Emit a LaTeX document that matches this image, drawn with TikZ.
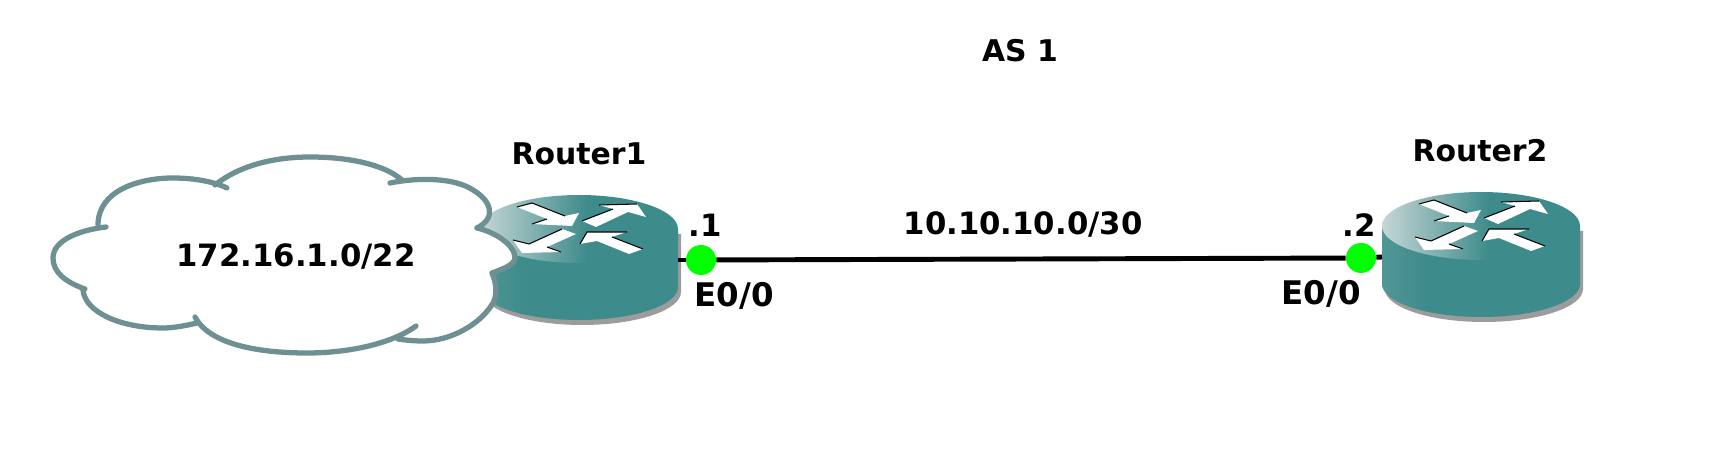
\documentclass[tikz,border=0pt]{standalone}
\usepackage{fontspec}
\setmainfont{DejaVu Sans}
\usetikzlibrary{positioning}
\definecolor{routerteal}{HTML}{3E8B8B}
\definecolor{routerlight}{HTML}{C6D6D6}
\definecolor{routershadow}{HTML}{9C9C9C}
\definecolor{cloudgrey}{HTML}{6E9092}
\definecolor{portgreen}{HTML}{00FF00}
\colorlet{routerpale}{routerteal!90!white}
\pgfdeclarehorizontalshading{routertop}{100bp}{color(0bp)=(routerlight); color(25bp)=(routerlight); color(52bp)=(routerteal); color(100bp)=(routerteal)}
\pgfdeclarehorizontalshading{routerside}{100bp}{color(0bp)=(routerpale); color(25bp)=(routerpale); color(36bp)=(routerteal); color(100bp)=(routerteal)}
\tikzset{
netlabel/.style={font=\fontsize{17}{20}\selectfont\bfseries, inner sep=0pt},
addrlabel/.style={font=\fontsize{17.5}{20}\selectfont\bfseries, inner sep=0pt},
portlabel/.style={font=\fontsize{18.5}{20}\selectfont\bfseries, inner sep=0pt},
portdot/.style={circle, fill=portgreen, minimum size=0.6cm, inner sep=0pt},
netlink/.style={draw, black, line width=2.8pt},
cloudline/.style={draw=cloudgrey, line width=3pt, line cap=round, line join=round},
arrowedge/.style={draw, black, line width=0.6pt},
routericon/.pic={
  % shadow, body, then the top face
  \fill[routershadow] (-96,5) -- (-96,63) arc[start angle=180, end angle=0, x radius=99, y radius=33] -- (102,5) -- cycle;
  \shade[shading=routerside] (-99,0) -- (-99,58) arc[start angle=180, end angle=0, x radius=99, y radius=33] -- (99,0) -- cycle;
  \shade[shading=routertop] (0,0) ellipse[x radius=99, y radius=34];
  % the four arrows
  \fill[white] (-62,-22) -- (-47,-26) -- (-14,-13) -- (0,-16) -- (-7,-3) -- (-47,-5) -- (-32,-10) -- cycle;
  \fill[white] (3,-8) -- (34,-20) -- (20,-24) -- (58,-25) -- (67,-12) -- (49,-17) -- (17,-2) -- cycle;
  \fill[white] (-66,11) -- (-50,15) -- (-17,0) -- (-3,5) -- (-32,18) -- (-18,23) -- (-57,24) -- cycle;
  \fill[white] (1,15) -- (8,3) -- (48,3) -- (33,8) -- (64,20) -- (50,25) -- (18,12) -- cycle;
  \draw[arrowedge] (-62,-22) -- (-47,-26) -- (-14,-13);
  \draw[arrowedge] (-47,-5) -- (-32,-10);
  \draw[arrowedge] (3,-8) -- (34,-20);
  \draw[arrowedge] (20,-24) -- (58,-25);
  \draw[arrowedge] (-66,11) -- (-50,15) -- (-17,0);
  \draw[arrowedge] (-32,18) -- (-18,23);
  \draw[arrowedge] (1,15) -- (8,3) -- (48,3);
  \draw[arrowedge] (33,8) -- (64,20);
  \coordinate (-east) at (99,31);
  \coordinate (-west) at (-99,31);
},
}
% cloud outline, one lobe at a time
\def\lobeA{(98,225) .. controls (98,190) and (140,178) .. (173,178) .. controls (195,178) and (215,182) .. (227,188)}
\def\lobeB{(215,185) .. controls (240,165) and (275,157) .. (310,157) .. controls (350,157) and (385,165) .. (402,180)}
\def\lobeC{(390,183) .. controls (420,177) and (455,178) .. (473,190) .. controls (490,200) and (498,217) .. (477,228)}
\def\lobeD{(477,228) .. controls (495,232) and (515,245) .. (515,258) .. controls (515,265) and (500,270) .. (492,273)}
\def\lobeE{(492,273) .. controls (497,285) and (497,295) .. (493,303) .. controls (480,325) and (450,341) .. (423,341) .. controls (413,341) and (405,340) .. (398,339)}
\def\lobeF{(416,326) .. controls (390,345) and (345,353) .. (307,353) .. controls (260,353) and (210,345) .. (195,317)}
\def\lobeG{(197,323) .. controls (180,327) and (170,328) .. (163,328) .. controls (120,328) and (85,312) .. (83,290)}
\def\lobeH{(85,289) .. controls (65,282) and (53,272) .. (53,258) .. controls (53,240) and (80,230) .. (106,227)}

\begin{document}
\begin{tikzpicture}[x=0.02cm, y=-0.02cm]
\useasboundingbox (0,0) rectangle (1715,465);

\pic (router1) at (579,229) {routericon};
\pic (router2) at (1481,226) {routericon};

% the cloud sits in front of Router1
\fill[white] (98,225) -- (227,188) -- (215,185) -- (402,180) -- (390,183) -- (477,228) -- (492,273) -- (398,339) -- (416,326) -- (195,317) -- (197,323) -- (83,290) -- (85,289) -- (106,227) -- cycle
  \lobeA \lobeB \lobeC \lobeD \lobeE \lobeF \lobeG \lobeH;
\draw[cloudline] \lobeA;
\draw[cloudline] \lobeB;
\draw[cloudline] \lobeC;
\draw[cloudline] \lobeD;
\draw[cloudline] \lobeE;
\draw[cloudline] \lobeF;
\draw[cloudline] \lobeG;
\draw[cloudline] \lobeH;

\node[portdot] (port1) at (701,260) {};
\node[portdot] (port2) at (1361,258) {};
\path[netlink] (router1-east) -- (port1);
\path[netlink] (port1) -- (port2);
\path[netlink] (port2) -- (router2-west);

\node[netlabel] (as) at (1020,51) {AS 1};
\node[netlabel] (name1) at (579,154) {Router1};
\node[netlabel] (name2) at (1480,151) {Router2};
\node[addrlabel] (subnet) at (296,257) {172.16.1.0/22};
\node[addrlabel] (linknet) at (1023,225) {10.10.10.0/30};
\node[addrlabel] (host1) at (705,225) {.1};
\node[addrlabel] (host2) at (1359,225) {.2};
\node[portlabel] (if1) at (734,296) {E0/0};
\node[portlabel] (if2) at (1321,294) {E0/0};

\end{tikzpicture}
\end{document}
